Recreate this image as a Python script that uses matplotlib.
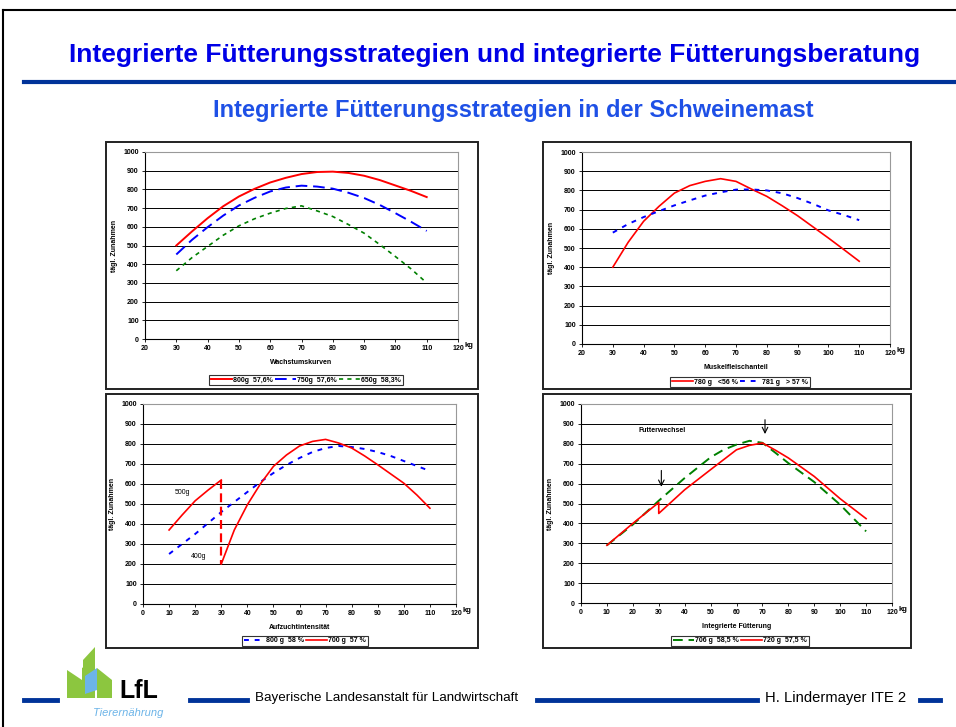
import matplotlib
matplotlib.use("Agg")
import matplotlib.pyplot as plt
from matplotlib.patches import Rectangle, Polygon

plt.rcParams['font.family'] = ['Liberation Sans', 'DejaVu Sans']

W, H = 956, 727

# --- data ---------------------------------------------------------------
xs = list(range(30, 111, 5))

# Wachstumskurven
red1 = [500, 575, 646, 710, 762, 803, 837, 862, 882, 893, 895, 888, 873, 850, 821, 792, 759]
blue1 = [452, 530, 598, 660, 714, 755, 789, 810, 820, 815, 804, 782, 754, 717, 673, 627, 578]
green1 = [365, 435, 495, 555, 605, 643, 673, 698, 712, 685, 655, 612, 566, 505, 441, 375, 300]
labels1 = ["800g  57,6%", "750g  57,6%", "650g  58,3%"]

# Muskelfleischanteil
red2 = [400, 530, 639, 717, 786, 825, 847, 861, 847, 807, 769, 720, 668, 610, 552, 492, 431]
blue2 = [580, 625, 661, 692, 722, 748, 773, 790, 804, 805, 800, 785, 760, 730, 696, 672, 645]
labels2 = ["780 g   <56 %", "781 g   > 57 %"]

# Aufzuchtintensitaet
x3a = [10, 15, 20, 25, 30]
red3a = [370, 445, 516, 570, 620]
red3b = [200, 370, 496, 600, 688, 745, 790, 813, 823, 805, 780, 740, 696, 650, 604, 545, 479]
x3 = list(range(10, 111, 5))
blue3 = [250, 300, 350, 405, 460, 510, 560, 610, 655, 695, 730, 760, 780, 790,
         785, 775, 760, 740, 715, 690, 665]
labels3 = ["800 g  58 %", "700 g  57 %"]

# Integrierte Fuetterung
x4 = [10, 20, 30, 40, 50, 55, 60, 65, 70, 75, 80, 90, 100, 110]
green4 = [290, 394, 514, 628, 732, 770, 796, 815, 805, 755, 703, 608, 494, 360]
x4r = [10, 20, 30, 30, 40, 50, 60, 65, 70, 75, 80, 90, 100, 110]
red4 = [290, 400, 505, 450, 569, 670, 770, 792, 804, 768, 729, 636, 524, 424]
labels4 = ["706 g  58,5 %", "720 g  57,5 %"]

yticks = list(range(0, 1001, 100))


def fx(x):
    return x / W


def fy(y):
    return 1 - y / H


def box(x0, y0, x1_, y1_):
    return [fx(x0), fy(y1_), (x1_ - x0) / W, (y1_ - y0) / H]


fig = plt.figure(figsize=(W / 100, H / 100), dpi=100)

# slide frame
fig.add_artist(plt.Line2D([fx(3), 1], [fy(10), fy(10)], color='black', lw=1.5))
fig.add_artist(plt.Line2D([fx(3), fx(3)], [fy(10), 0], color='black', lw=1.5))

fig.text(fx(495), fy(55), "Integrierte Fütterungsstrategien und integrierte Fütterungsberatung",
         ha='center', va='center', fontsize=19, fontweight='bold', color='#0000e6')
fig.add_artist(plt.Line2D([fx(24), fx(956)], [fy(82), fy(82)], color='#003399', lw=3))
fig.text(fx(513), fy(110), "Integrierte Fütterungsstrategien in der Schweinemast",
         ha='center', va='center', fontsize=17, fontweight='bold', color='#1e50e6')

# panel frames
for (a, b, c, d) in [(106, 142, 478, 389), (543, 142, 911, 389),
                     (106, 394, 478, 648), (543, 394, 911, 648)]:
    fig.add_artist(Rectangle((fx(a), fy(d)), (c - a) / W, (d - b) / H,
                             transform=fig.transFigure, fill=False,
                             edgecolor='#222222', lw=1.4))


def style(ax, xmin, xlabel):
    ax.set_xlim(xmin, 120)
    ax.set_ylim(0, 1000)
    ax.set_xticks(list(range(xmin, 121, 10)))
    ax.set_yticks(yticks)
    ax.tick_params(labelsize=5, length=2.5, width=0.6, pad=2)
    for lab in ax.get_xticklabels() + ax.get_yticklabels():
        lab.set_fontweight('bold')
    ax.grid(axis='y', color='black', lw=0.7)
    ax.set_axisbelow(True)
    for s in ['top', 'right']:
        ax.spines[s].set_color('#999999')
        ax.spines[s].set_linewidth(0.8)
    for s in ['left', 'bottom']:
        ax.spines[s].set_linewidth(0.8)
    ax.set_xlabel(xlabel, fontsize=5, fontweight='bold', labelpad=5)
    ax.set_ylabel("tägl. Zunahmen", fontsize=5, fontweight='bold', labelpad=4)
    ax.text(1.035, -0.035, "kg", transform=ax.transAxes, fontsize=5.5,
            fontweight='bold', ha='center', va='center')


def legend(ax, handles, labels, xc, yc):
    lg = fig.legend(handles, labels, loc='center', bbox_to_anchor=(fx(xc), fy(yc)),
                    ncol=len(labels), fontsize=5, frameon=True, fancybox=False,
                    handlelength=3, handletextpad=0.2, columnspacing=0.3,
                    borderpad=0.25, borderaxespad=0)
    lg.get_frame().set_edgecolor('black')
    lg.get_frame().set_linewidth(0.8)
    for t in lg.get_texts():
        t.set_fontweight('bold')


# panel 1
ax = fig.add_axes(box(145, 152, 458, 339))
l1, = ax.plot(xs, red1, color='red', lw=1.4)
l2, = ax.plot(xs, blue1, color='blue', lw=1.4, dashes=(6, 3))
l3, = ax.plot(xs, green1, color='green', lw=1.2, dashes=(2.5, 2.5))
style(ax, 20, "Wachstumskurven")
legend(ax, [l1, l2, l3], labels1, 306, 380)

# panel 2
ax = fig.add_axes(box(582, 152, 890, 344))
l1, = ax.plot(xs, red2, color='red', lw=1.2)
l2, = ax.plot(xs, blue2, color='blue', lw=1.4, dashes=(2.5, 3))
style(ax, 20, "Muskelfleischanteil")
legend(ax, [l1, l2], labels2, 740, 382)

# panel 3
ax = fig.add_axes(box(143, 404, 456, 604))
l1, = ax.plot(x3, blue3, color='blue', lw=1.4, dashes=(2.5, 3))
l2, = ax.plot(x3a, red3a, color='red', lw=1.2)
ax.plot(xs, red3b, color='red', lw=1.2)
ax.plot([x3a[-1], xs[0]], [red3a[-1], red3b[0]], color='red', lw=1.6, dashes=(4, 2))
ax.text(12, 560, "500g", fontsize=5, ha='left', va='center')
ax.text(18.5, 240, "400g", fontsize=5, ha='left', va='center')
style(ax, 0, "Aufzuchtintensität")
legend(ax, [l1, l2], labels3, 305, 641)

# panel 4
ax = fig.add_axes(box(581, 404, 892, 603))
l1, = ax.plot(x4, green4, color='green', lw=1.4, dashes=(5, 3))
l2, = ax.plot(x4r, red4, color='red', lw=1.2)
ax.annotate("", xy=(31, 570), xytext=(31, 680),
            arrowprops=dict(arrowstyle='->', color='black', lw=0.8))
ax.annotate("", xy=(71, 835), xytext=(71, 935),
            arrowprops=dict(arrowstyle='->', color='black', lw=0.8))
ax.text(31.4, 866, "Futterwechsel", fontsize=5, fontweight='bold', ha='center', va='center')
style(ax, 0, "Integrierte Fütterung")
legend(ax, [l1, l2], labels4, 740, 641)

# footer
for (a, b) in [(24, 57), (190, 247), (537, 757), (920, 940)]:
    fig.add_artist(plt.Line2D([fx(a), fx(b)], [fy(700), fy(700)], color='#003399', lw=3.5))
fig.text(fx(255), fy(698), "Bayerische Landesanstalt für Landwirtschaft",
         fontsize=9.6, ha='left', va='center')
fig.text(fx(765), fy(698), "H. Lindermayer ITE 2",
         fontsize=10.6, ha='left', va='center')

# logo
leaf_green = '#8cc63f'
shapes = [
    ([(67, 670), (82, 680), (82, 698), (67, 698)], leaf_green),
    ([(82, 668), (95, 660), (95, 698), (82, 698)], leaf_green),
    ([(83, 660), (95, 647), (95, 668), (83, 676)], leaf_green),
    ([(85, 676), (97, 668), (97, 690), (85, 694)], '#6cb4e8'),
    ([(97, 668), (112, 680), (112, 698), (97, 698)], leaf_green),
]
for pts, col in shapes:
    fig.add_artist(Polygon([(fx(a), fy(b)) for a, b in pts], closed=True,
                           transform=fig.transFigure, facecolor=col, edgecolor='none'))
fig.text(fx(119), fy(691), "LfL", fontsize=18, fontweight='bold', ha='left', va='center')
fig.text(fx(128), fy(713), "Tierernährung", fontsize=8, style='italic', color='#6cb4e8',
         ha='center', va='center')

fig.savefig("out.png", dpi=100)
